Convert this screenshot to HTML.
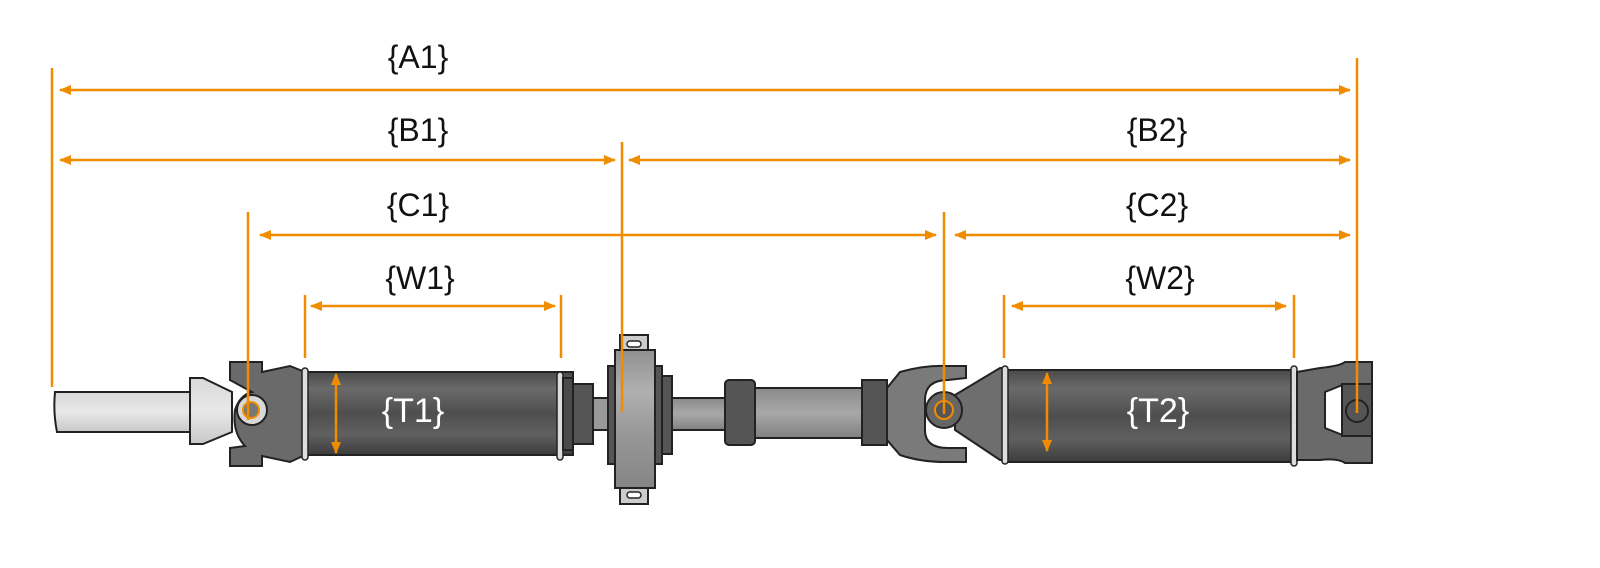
<!DOCTYPE html>
<html><head><meta charset="utf-8"><style>
html,body{margin:0;padding:0;background:#fff;}
svg{display:block;}
text{font-family:"Liberation Sans",sans-serif;}
</style></head><body>
<svg width="1600" height="568" viewBox="0 0 1600 568" xmlns="http://www.w3.org/2000/svg">
<defs>
<linearGradient id="tube" x1="0" y1="0" x2="0" y2="1">
<stop offset="0" stop-color="#4a4a4a"/><stop offset="0.2" stop-color="#6a6a6a"/><stop offset="0.5" stop-color="#4e4e4e"/><stop offset="0.75" stop-color="#606060"/><stop offset="1" stop-color="#3c3c3c"/></linearGradient>
<linearGradient id="light" x1="0" y1="0" x2="0" y2="1">
<stop offset="0" stop-color="#d8d8d8"/><stop offset="0.5" stop-color="#e8e8e8"/><stop offset="1" stop-color="#c8c8c8"/></linearGradient>
<linearGradient id="mid" x1="0" y1="0" x2="0" y2="1">
<stop offset="0" stop-color="#8a8a8a"/><stop offset="0.5" stop-color="#a8a8a8"/><stop offset="1" stop-color="#808080"/></linearGradient>
<linearGradient id="brg" x1="0" y1="0" x2="0" y2="1">
<stop offset="0" stop-color="#909090"/><stop offset="0.3" stop-color="#b0b0b0"/><stop offset="0.6" stop-color="#989898"/><stop offset="1" stop-color="#858585"/></linearGradient>
<marker id="ah" markerWidth="12" markerHeight="10" refX="11" refY="5" orient="auto-start-reverse" markerUnits="userSpaceOnUse"><path d="M0,0 L12,5 L0,10 z" fill="#f08c00"/></marker>
</defs>

<path d="M55,392 L195,392 L195,432 L57,432 Q53,412 55,392 z" fill="url(#light)" stroke="#222" stroke-width="2"/>
<path d="M190,378 L203,378 L232,392 L232,432 L203,444 L190,444 z" fill="url(#light)" stroke="#222" stroke-width="2"/>
<path d="M230,362 L262,362 L262,372 L290,366 L305,372 L305,455 L290,462 L262,456 L262,466 L230,466 L230,448 L245,446 Q232,432 235,410 Q240,395 252,392 L230,380 z" fill="#6a6a6a" stroke="#222" stroke-width="2"/>
<circle cx="252" cy="410" r="15" fill="#d8d8d8" stroke="#222" stroke-width="2"/>
<circle cx="251" cy="410" r="8" fill="#777" stroke="#f08c00" stroke-width="2"/>
<rect x="305" y="372" width="268" height="83" fill="url(#tube)" stroke="#222" stroke-width="2"/>
<rect x="302" y="368" width="6" height="92" rx="3" fill="#ddd" stroke="#222" stroke-width="1.5"/>
<rect x="557" y="372" width="6" height="88" rx="3" fill="#ddd" stroke="#222" stroke-width="1.5"/>
<rect x="563" y="378" width="10" height="72" fill="#4a4a4a" stroke="#222" stroke-width="2"/>
<rect x="573" y="384" width="20" height="60" fill="#555" stroke="#222" stroke-width="2"/>
<rect x="593" y="398" width="15" height="32" fill="#999" stroke="#222" stroke-width="2"/>
<rect x="620" y="335" width="28" height="18" fill="#ccc" stroke="#222" stroke-width="2"/>
<rect x="627" y="341" width="14" height="6" rx="3" fill="#fff" stroke="#222" stroke-width="1.5"/>
<rect x="620" y="486" width="28" height="18" fill="#ccc" stroke="#222" stroke-width="2"/>
<rect x="627" y="492" width="14" height="6" rx="3" fill="#fff" stroke="#222" stroke-width="1.5"/>
<rect x="608" y="366" width="54" height="98" fill="#555" stroke="#222" stroke-width="2"/>
<rect x="662" y="376" width="10" height="78" fill="#555" stroke="#222" stroke-width="2"/>
<rect x="615" y="350" width="40" height="138" fill="url(#brg)" stroke="#222" stroke-width="2"/>
<rect x="672" y="398" width="55" height="32" fill="url(#mid)" stroke="#222" stroke-width="2"/>
<rect x="750" y="388" width="115" height="50" fill="url(#mid)" stroke="#222" stroke-width="2"/>
<rect x="725" y="380" width="30" height="65" rx="4" fill="#555" stroke="#222" stroke-width="2"/>
<rect x="862" y="380" width="25" height="65" fill="#555" stroke="#222" stroke-width="2"/>
<path d="M887,388 L900,372 Q925,365 946,366 L966,366 L966,378 L948,380 Q925,380 925,400 L925,430 Q925,448 948,448 L966,448 L966,462 L946,462 Q920,462 900,455 L887,440 z" fill="#7a7a7a" stroke="#222" stroke-width="2"/>
<path d="M955,395 L1000,368 L1006,368 L1006,460 L1000,460 L955,430 z" fill="#6e6e6e" stroke="#222" stroke-width="2"/>
<circle cx="944" cy="410" r="18" fill="#666" stroke="#222" stroke-width="2"/>
<circle cx="944" cy="410" r="9" fill="#555" stroke="#f08c00" stroke-width="2"/>
<rect x="1006" y="370" width="290" height="92" fill="url(#tube)" stroke="#222" stroke-width="2"/>
<rect x="1002" y="366" width="6" height="98" rx="3" fill="#ddd" stroke="#222" stroke-width="1.5"/>
<rect x="1291" y="366" width="6" height="100" rx="3" fill="#ddd" stroke="#222" stroke-width="1.5"/>
<path d="M1297,372 L1320,368 Q1340,366 1345,362 L1372,362 L1372,384 L1345,384 L1325,392 L1325,428 L1345,436 L1372,436 L1372,463 L1345,463 Q1338,458 1320,460 L1297,460 z" fill="#6a6a6a" stroke="#222" stroke-width="2"/>
<rect x="1342" y="384" width="30" height="52" fill="#555" stroke="#222" stroke-width="2"/>
<circle cx="1357" cy="411" r="11" fill="#555" stroke="#222" stroke-width="2"/>

<text x="413" y="422" font-size="34" fill="#fff" text-anchor="middle">{T1}</text>
<text x="1158" y="422" font-size="34" fill="#fff" text-anchor="middle">{T2}</text>

<g stroke="#f08c00" stroke-width="2.5" fill="none">
<line x1="52" y1="68" x2="52" y2="387"/>
<line x1="1357" y1="58" x2="1357" y2="413"/>
<line x1="622" y1="142" x2="622" y2="412"/>
<line x1="248" y1="212" x2="248" y2="420"/>
<line x1="944" y1="212" x2="944" y2="414"/>
<line x1="305" y1="295" x2="305" y2="358"/>
<line x1="561" y1="295" x2="561" y2="358"/>
<line x1="1004" y1="295" x2="1004" y2="358"/>
<line x1="1294" y1="295" x2="1294" y2="358"/>
<line x1="60" y1="90" x2="1350" y2="90" marker-start="url(#ah)" marker-end="url(#ah)"/>
<line x1="60" y1="160" x2="615" y2="160" marker-start="url(#ah)" marker-end="url(#ah)"/>
<line x1="629" y1="160" x2="1350" y2="160" marker-start="url(#ah)" marker-end="url(#ah)"/>
<line x1="260" y1="235" x2="936" y2="235" marker-start="url(#ah)" marker-end="url(#ah)"/>
<line x1="955" y1="235" x2="1350" y2="235" marker-start="url(#ah)" marker-end="url(#ah)"/>
<line x1="311" y1="306" x2="555" y2="306" marker-start="url(#ah)" marker-end="url(#ah)"/>
<line x1="1012" y1="306" x2="1286" y2="306" marker-start="url(#ah)" marker-end="url(#ah)"/>
<line x1="336" y1="374" x2="336" y2="453" marker-start="url(#ah)" marker-end="url(#ah)"/>
<line x1="1047" y1="373" x2="1047" y2="451" marker-start="url(#ah)" marker-end="url(#ah)"/>
</g>

<g font-size="32" fill="#111" text-anchor="middle">
<text x="418" y="68">{A1}</text>
<text x="418" y="141">{B1}</text>
<text x="1157" y="141">{B2}</text>
<text x="418" y="216">{C1}</text>
<text x="1157" y="216">{C2}</text>
<text x="420" y="289">{W1}</text>
<text x="1160" y="289">{W2}</text>
</g>
</svg>
</body></html>
